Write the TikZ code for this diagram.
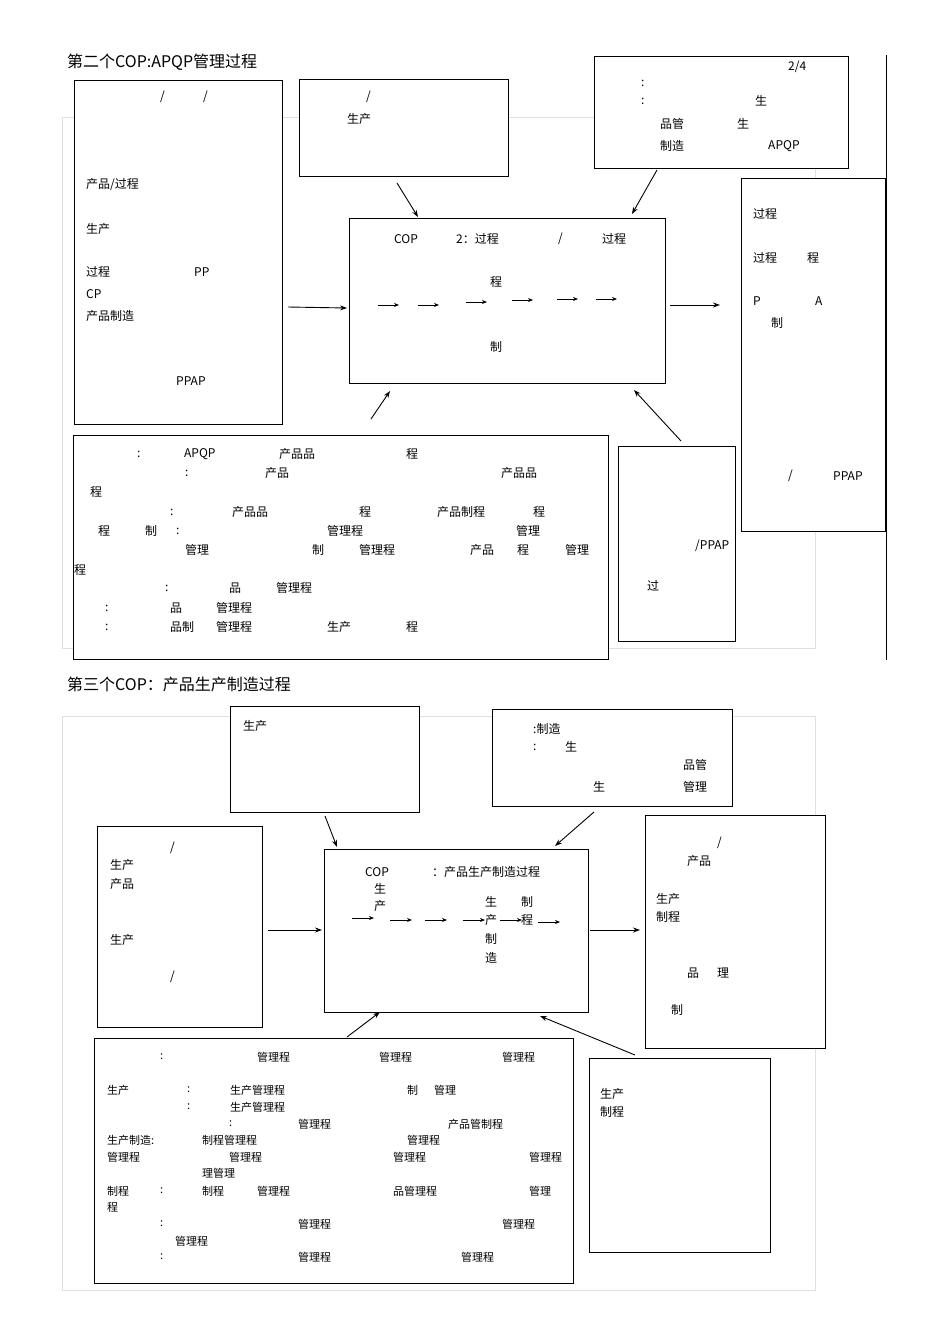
\documentclass[tikz,border=0pt]{standalone}
\usepackage{fontspec}
\setmainfont{Noto Sans CJK SC}
\usetikzlibrary{arrows.meta}
\newcommand{\tx}[3]{\node[anchor=west,inner sep=0pt] at (#1,#2) {#3};}
\begin{document}
\begin{tikzpicture}[x=1pt,y=-1pt,font=\fontsize{12}{13}\selectfont,
  box/.style={draw,fill=white,line width=0.8pt},
  faint/.style={draw=black!12,line width=0.6pt},
  arr/.style={-{Stealth[length=7pt,width=5pt]},line width=0.9pt},
  sarr/.style={-{Stealth[length=5pt,width=4pt]},line width=0.8pt}]
\useasboundingbox[fill=white] (0,0) rectangle (950,1344);
\draw[faint] (62,117) rectangle (815,648);
\draw[faint] (62,716) rectangle (815,1290);
\draw[line width=0.8pt] (886,55) -- (886,660);
% top
\node[anchor=west,inner sep=0pt,font=\fontsize{16}{18}\selectfont] (t1) at (67,62) {第二个COP:APQP管理过程};
\draw[box] (74,80) rectangle (282,424) coordinate (A);
\draw[box] (299,79) rectangle (508,176);
\draw[box] (594,56) rectangle (848,168);
\draw[box] (349,218) rectangle (665,383);
\draw[box] (741,178) rectangle (885,531);
\draw[box] (73,435) rectangle (608,659);
\draw[box] (618,446) rectangle (735,641);
\coordinate (a1) at (397,183); \coordinate (a2) at (418,217);
\coordinate (b1) at (657,170); \coordinate (b2) at (632,214);
\coordinate (c1) at (288,307); \coordinate (c2) at (347,308);
\coordinate (d1) at (670,305); \coordinate (d2) at (720,305);
\coordinate (e1) at (371,419); \coordinate (e2) at (390,391);
\coordinate (f1) at (681,441); \coordinate (f2) at (634,390);
\foreach \p/\q in {a1/a2,b1/b2,c1/c2,d1/d2,e1/e2,f1/f2} \draw[arr] (\p) -- (\q);
\foreach \x/\y in {378/305,418/305,466/302,512/300,557/299,596/299} \draw[sarr] (\x,\y) -- (\x+21,\y);
\tx{160}{97}{/}\tx{203}{97}{/}
\tx{86}{185}{产品/过程}\tx{86}{229}{生产}\tx{86}{272}{过程}\tx{194}{272}{PP}
\tx{86}{294}{CP}\tx{86}{316}{产品制造}\tx{176}{381}{PPAP}
\tx{366}{97}{/}\tx{347}{119}{生产}
\tx{788}{67}{2/4}\tx{641}{83}{:}\tx{641}{101}{:}\tx{755}{101}{生}
\tx{660}{124}{品管}\tx{737}{124}{生}\tx{660}{146}{制造}\tx{768}{146}{APQP}
\tx{394}{239}{COP}\tx{456}{239}{2：过程}\tx{558}{239}{/}\tx{602}{239}{过程}
\tx{490}{282}{程}\tx{490}{347}{制}
\tx{753}{214}{过程}\tx{753}{258}{过程}\tx{807}{258}{程}
\tx{753}{301}{P}\tx{815}{301}{A}\tx{771}{323}{制}
\tx{788}{476}{/}\tx{833}{476}{PPAP}
\tx{137}{454}{:}\tx{184}{454}{APQP}\tx{279}{454}{产品品}\tx{406}{454}{程}
\tx{185}{473}{:}\tx{265}{473}{产品}\tx{501}{473}{产品品}
\tx{90}{492}{程}
\tx{170}{512}{:}\tx{232}{512}{产品品}\tx{359}{512}{程}\tx{437}{512}{产品制程}\tx{533}{512}{程}
\tx{98}{531}{程}\tx{145}{531}{制}\tx{176}{531}{:}\tx{327}{531}{管理程}\tx{516}{531}{管理}
\tx{185}{550}{管理}\tx{312}{550}{制}\tx{359}{550}{管理程}\tx{470}{550}{产品}\tx{517}{550}{程}\tx{565}{550}{管理}
\tx{74}{570}{程}
\tx{165}{588}{:}\tx{229}{588}{品}\tx{276}{588}{管理程}
\tx{105}{608}{:}\tx{170}{608}{品}\tx{216}{608}{管理程}
\tx{105}{627}{:}\tx{170}{627}{品制}\tx{216}{627}{管理程}\tx{327}{627}{生产}\tx{406}{627}{程}
\tx{695}{546}{/PPAP}\tx{647}{586}{过}
% bottom
\node[anchor=west,inner sep=0pt,font=\fontsize{16}{18}\selectfont] (t2) at (67,684) {第三个COP：产品生产制造过程};
\draw[box] (230,706) rectangle (419,812);
\draw[box] (492,709) rectangle (732,806);
\draw[box] (97,826) rectangle (262,1027);
\draw[box] (324,849) rectangle (588,1012);
\draw[box] (645,815) rectangle (825,1048);
\draw[box] (94,1038) rectangle (573,1283);
\draw[box] (589,1058) rectangle (770,1252);
\coordinate (g1) at (325,816); \coordinate (g2) at (337,847);
\coordinate (h1) at (594,812); \coordinate (h2) at (555,846);
\coordinate (i1) at (268,930); \coordinate (i2) at (322,930);
\coordinate (j1) at (590,930); \coordinate (j2) at (640,930);
\coordinate (k1) at (347,1037); \coordinate (k2) at (380,1012);
\coordinate (l1) at (635,1055); \coordinate (l2) at (540,1016);
\foreach \p/\q in {g1/g2,h1/h2,i1/i2,j1/j2,k1/k2,l1/l2} \draw[arr] (\p) -- (\q);
\foreach \x/\y in {352/918,390/920,425/920,463/920,500/920,538/922} \draw[sarr] (\x,\y) -- (\x+22,\y);
\tx{365}{872}{COP}\tx{432}{872}{：产品生产制造过程}
\tx{374}{889}{生}\tx{374}{906}{产}
\tx{485}{902}{生}\tx{521}{902}{制}\tx{485}{920}{产}\tx{521}{920}{程}
\tx{485}{939}{制}\tx{485}{958}{造}
\tx{243}{726}{生产}
\tx{533}{729}{:制造}\tx{533}{747}{:}\tx{565}{747}{生}\tx{683}{765}{品管}
\tx{593}{787}{生}\tx{683}{787}{管理}
\tx{170}{848}{/}\tx{110}{865}{生产}\tx{110}{884}{产品}\tx{110}{940}{生产}\tx{170}{977}{/}
\tx{717}{843}{/}\tx{687}{861}{产品}\tx{656}{899}{生产}\tx{656}{917}{制程}
\tx{687}{973}{品}\tx{717}{973}{理}\tx{671}{1010}{制}
\tx{600}{1094}{生产}\tx{600}{1112}{制程}
\begin{scope}[font=\fontsize{11}{12}\selectfont]
\tx{160}{1057}{:}\tx{257}{1057}{管理程}\tx{379}{1057}{管理程}\tx{502}{1057}{管理程}
\tx{107}{1090}{生产}\tx{187}{1090}{:}\tx{230}{1090}{生产管理程}\tx{407}{1090}{制}\tx{434}{1090}{管理}
\tx{187}{1107}{:}\tx{230}{1107}{生产管理程}
\tx{229}{1124}{:}\tx{298}{1124}{管理程}\tx{448}{1124}{产品管制程}
\tx{107}{1140}{生产制造:}\tx{202}{1140}{制程管理程}\tx{407}{1140}{管理程}
\tx{107}{1157}{管理程}\tx{229}{1157}{管理程}\tx{393}{1157}{管理程}\tx{529}{1157}{管理程}
\tx{202}{1173}{理管理}
\tx{107}{1191}{制程}\tx{160}{1191}{:}\tx{202}{1191}{制程}\tx{257}{1191}{管理程}\tx{393}{1191}{品管理程}\tx{529}{1191}{管理}
\tx{107}{1207}{程}
\tx{160}{1224}{:}\tx{298}{1224}{管理程}\tx{502}{1224}{管理程}
\tx{175}{1241}{管理程}
\tx{160}{1257}{:}\tx{298}{1257}{管理程}\tx{461}{1257}{管理程}
\end{scope}
\end{tikzpicture}
\end{document}
